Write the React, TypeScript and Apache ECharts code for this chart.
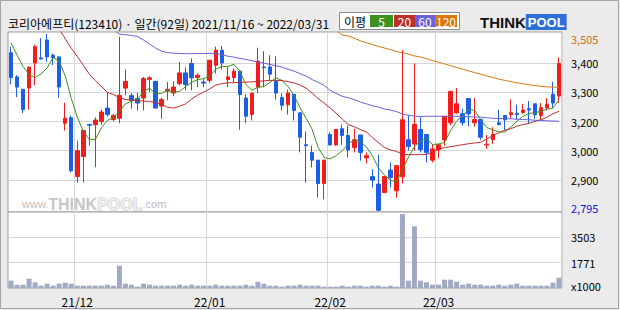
import { useEffect, useRef } from 'react';
import * as echarts from 'echarts';

const stockName = '코리아에프티';
const stockCode = '123410';

const dates = [
  '2021/11/16','2021/11/17','2021/11/18','2021/11/19','2021/11/22','2021/11/23','2021/11/24','2021/11/25','2021/11/26','2021/11/29','2021/11/30',
  '2021/12/01','2021/12/02','2021/12/03','2021/12/06','2021/12/07','2021/12/08','2021/12/09','2021/12/10','2021/12/13','2021/12/14','2021/12/15',
  '2021/12/16','2021/12/17','2021/12/20','2021/12/21','2021/12/22','2021/12/23','2021/12/24','2021/12/27','2021/12/28','2021/12/29','2021/12/30',
  '2022/01/03','2022/01/04','2022/01/05','2022/01/06','2022/01/07','2022/01/10','2022/01/11','2022/01/12','2022/01/13','2022/01/14',
  '2022/01/17','2022/01/18','2022/01/19','2022/01/20','2022/01/21','2022/01/24','2022/01/25','2022/01/26','2022/01/27','2022/01/28',
  '2022/02/03','2022/02/04','2022/02/07','2022/02/08','2022/02/09','2022/02/10','2022/02/11','2022/02/14','2022/02/15',
  '2022/02/16','2022/02/17','2022/02/18','2022/02/21','2022/02/22','2022/02/23','2022/02/24','2022/02/25','2022/02/28',
  '2022/03/02','2022/03/03','2022/03/04','2022/03/07','2022/03/08','2022/03/10','2022/03/11','2022/03/14','2022/03/15','2022/03/16',
  '2022/03/17','2022/03/18','2022/03/21','2022/03/22','2022/03/23','2022/03/24','2022/03/25','2022/03/28','2022/03/29','2022/03/30','2022/03/31',
];

const opens = [
  3430,3333,3283,3288,3389,3409,3481,3420,3413,3147,
  3169,2933,3014,3142,3141,3154,3208,3162,3167,3288,
  3258,3246,3248,3322,3315,3216,3276,3268,3306,3349,
  3387,3330,3312,3319,3380,3440,3322,3330,3356,3248,
  3182,3292,3373,3373,3315,3250,3221,3263,3189,3061,
  3030,2999,2905,3102,3060,3125,3098,3050,3100,3008,
  2933,2903,2869,2959,2876,2932,3081,3064,3122,3102,
  2999,3041,3080,3149,3189,3185,3246,3149,3162,3060,
  3081,3149,3178,3182,3187,3190,3205,3225,3178,3209,
  3263,3256,
];
const closes = [
  3330,3292,3202,3372,3454,3405,3413,3409,3292,3167,
  2956,3037,3118,3139,3160,3192,3182,3178,3259,3315,
  3239,3228,3326,3329,3208,3242,3283,3292,3349,3302,
  3329,3340,3308,3400,3440,3389,3333,3356,3262,3175,
  3268,3396,3370,3344,3268,3219,3268,3198,3091,3057,
  2999,2905,2999,3060,3122,3098,3040,3081,3030,3017,
  2919,2798,2933,2929,2977,3161,3054,3142,3041,3030,
  3044,3061,3175,3275,3225,3149,3185,3162,3091,3063,
  3102,3142,3161,3189,3182,3200,3200,3181,3209,3223,
  3228,3387,
];
const lows = [
  3303,3252,3188,3202,3299,3403,3393,3380,3250,3118,
  2950,2909,2909,3057,2970,3142,3174,3155,3147,3259,
  3205,3198,3198,3272,3205,3165,3239,3255,3299,3279,
  3279,3292,3292,3309,3346,3363,3292,3309,3121,3147,
  3158,3268,3292,3319,3242,3198,3182,3158,3030,2909,
  2970,2849,2842,3057,3057,3060,3010,3030,2997,2986,
  2889,2795,2869,2889,2849,2905,3037,3037,3030,2990,
  2990,3008,3057,3138,3185,3138,3134,3134,3080,3044,
  3064,3138,3118,3165,3161,3185,3145,3165,3161,3198,
  3209,3228,
];
const highs = [
  3454,3340,3285,3375,3461,3488,3505,3427,3416,3229,
  3178,3077,3118,3145,3171,3201,3272,3185,3494,3363,
  3268,3270,3333,3336,3315,3250,3313,3315,3393,3371,
  3407,3346,3326,3400,3454,3457,3373,3367,3356,3263,
  3268,3450,3436,3420,3416,3268,3282,3263,3189,3114,
  3057,2999,2999,3110,3122,3142,3138,3125,3100,3030,
  2963,3021,2933,2990,2977,3440,3178,3387,3171,3102,
  3064,3061,3175,3275,3288,3205,3246,3248,3162,3100,
  3131,3201,3178,3243,3221,3225,3236,3225,3228,3248,
  3313,3411,
];
// volume in thousands of shares
const volumes = [
  540,265,265,675,428,200,335,200,335,404,
  335,200,200,200,200,200,265,200,1564,335,
  265,130,335,265,200,200,200,200,265,200,
  265,200,200,200,265,200,200,200,200,265,
  200,472,335,200,200,130,200,200,265,200,
  200,200,130,130,130,200,130,200,200,130,
  200,200,130,200,130,5098,540,4256,540,428,
  265,265,608,608,472,265,335,265,265,200,
  200,265,200,265,335,200,200,200,200,200,
  404,745,
];

const N = null;
const ma5 = [
  3470,3420,3375,3342,3330,3345,3369,3411,3395,3337,
  3247,3172,3114,3083,3082,3129,3158,3170,3194,3225,
  3235,3244,3273,3287,3266,3267,3278,3271,3275,3294,
  3311,3322,3326,3336,3363,3375,3374,3384,3356,3303,
  3279,3291,3294,3311,3329,3319,3294,3259,3209,3167,
  3123,3050,3010,3004,3017,3037,3064,3080,3074,3053,
  3017,2969,2939,2919,2911,2960,3011,3053,3075,3086,
  3062,3064,3070,3117,3156,3177,3202,3199,3162,3130,
  3121,3112,3112,3131,3155,3175,3186,3190,3194,3203,
  3208,3240,
];
const ma20 = [
  N,N,N,N,N,N,N,N,3525,3486,
  3448,3415,3380,3344,3318,3295,3271,3262,3250,3242,
  3240,3238,3236,3234,3230,3222,3211,3208,3215,3225,
  3244,3260,3272,3285,3300,3306,3309,3310,3311,3312,
  3313,3315,3317,3319,3319,3318,3314,3309,3300,3288,
  3268,3246,3228,3208,3187,3164,3142,3133,3122,3112,
  3090,3070,3050,3040,3034,3023,3021,3021,3021,3022,
  3030,3042,3050,3053,3057,3061,3065,3068,3071,3083,
  3097,3109,3119,3125,3135,3142,3146,3155,3161,3171,
  3185,3195,
];
const ma60 = [
  N,N,N,N,N,N,N,N,N,N,
  N,N,N,N,N,N,N,3525,3504,3502,
  3499,3495,3481,3465,3449,3436,3430,3428,3427,3426,
  3426,3427,3427,3427,3427,3422,3416,3412,3407,3403,
  3398,3392,3388,3383,3378,3372,3364,3356,3346,3336,
  3322,3311,3299,3279,3267,3255,3249,3242,3232,3225,
  3217,3212,3204,3200,3194,3184,3179,3176,3174,3175,
  3175,3175,3175,3175,3175,3174,3173,3172,3171,3169,
  3167,3166,3165,3165,3163,3162,3161,3159,3158,3157,
  3156,3155,
];
const ma120 = [
  N,N,N,N,N,N,N,N,N,N,
  N,N,N,N,N,N,N,N,N,N,
  N,N,N,N,N,N,N,N,N,N,
  N,N,N,N,N,N,N,N,N,N,
  N,N,N,N,N,N,N,N,N,N,
  N,N,N,N,3520,3501,3497,3488,3478,3470,
  3463,3455,3449,3442,3435,3430,3424,3417,3413,3406,
  3398,3392,3385,3378,3371,3364,3357,3350,3344,3337,
  3331,3324,3319,3314,3309,3305,3301,3298,3295,3293,
  3292,3291,
];

const maPeriods = ['5', '20', '60', '120'];

// price-axis grid lines and their (rounded) labels as printed on the chart
const priceGridValues = [3388, 3271, 3154, 3037, 2920];
const priceGridLabels = ['3,400', '3,300', '3,200', '3,000', '2,900'];
const PRICE_AXIS_MIN = 2791;
const PRICE_AXIS_MAX = 3513;

const volumeGridValues = [1771, 3503];
const VOLUME_AXIS_MIN = 39;
const VOLUME_AXIS_MAX = 5235;
const volumeUnitLabel = 'x1000';

const FONT = '"Noto Sans CJK KR", "Noto Sans", sans-serif';
const UP = '#f21c1c';
const DOWN = '#1d5fe4';
const MA_COLORS = ['#3d921f', '#bd2f2a', '#6a60db', '#db770c'];
const GRID_LINE = '#d6d6d6';
const BORDER = '#9c9c9c';

function isMonthStart(index: number) {
  return index > 0 && dates[index].slice(0, 7) !== dates[index - 1].slice(0, 7);
}

function fmt(v: number) {
  return v.toLocaleString('en-US');
}

function buildOption() {
  const priceHigh = Math.max(...highs);
  const priceLow = Math.min(...lows);
  const title = `${stockName}(${stockCode}) · 일간(${dates.length}일) ${dates[0]} ~ ${dates[dates.length - 1]}`;

  const legendBoxes: any[] = [];
  const boxX = [370, 394, 415, 435];
  const boxW = [23, 21, 20, 22];
  maPeriods.forEach((p, k) => {
    legendBoxes.push({
      type: 'rect',
      shape: { x: boxX[k], y: 15, width: boxW[k], height: 12 },
      style: { fill: MA_COLORS[k] },
      silent: true,
    });
    legendBoxes.push({
      type: 'text',
      x: boxX[k] + boxW[k] / 2,
      y: 21.5,
      style: { text: p, fill: '#fff', font: `12px ${FONT}`, align: 'center', verticalAlign: 'middle' },
      silent: true,
    });
  });

  const xAxisBase = (gridIndex: number) => ({
    type: 'category',
    gridIndex,
    data: dates,
    boundaryGap: true,
    axisLine: { show: false },
    axisTick: { show: false },
    splitLine: { show: true, interval: isMonthStart, lineStyle: { color: GRID_LINE, width: 1 } },
    axisLabel:
      gridIndex === 1
        ? {
            show: true,
            interval: isMonthStart,
            formatter: (d: string) => d.slice(2, 7),
            margin: 7,
            color: '#000',
            fontSize: 12,
            fontFamily: FONT,
          }
        : { show: false },
  });

  return {
    animation: false,
    backgroundColor: '#ebebeb',
    grid: [
      { left: 8, top: 32, width: 554, height: 180, show: true, backgroundColor: '#fff', borderColor: BORDER, borderWidth: 1 },
      { left: 8, top: 212, width: 554, height: 76, show: true, backgroundColor: '#fff', borderColor: BORDER, borderWidth: 1 },
    ],
    xAxis: [xAxisBase(0), xAxisBase(1)],
    yAxis: [
      {
        type: 'value',
        gridIndex: 0,
        position: 'right',
        min: PRICE_AXIS_MIN,
        max: PRICE_AXIS_MAX,
        axisLine: { show: false },
        axisTick: { show: false, customValues: priceGridValues },
        splitLine: { show: true, lineStyle: { color: GRID_LINE } },
        axisLabel: {
          customValues: [priceHigh, ...priceGridValues, priceLow],
          margin: 9,
          color: '#000',
          fontSize: 11,
          fontFamily: FONT,
          formatter: (v: number) => {
            if (v === priceHigh) return `{hi|${fmt(priceHigh)}}`;
            if (v === priceLow) return `{lo|${fmt(priceLow)}}`;
            const k = priceGridValues.indexOf(v);
            return k >= 0 ? priceGridLabels[k] : '';
          },
          rich: {
            hi: { color: '#d2700a', fontSize: 11, fontFamily: FONT, padding: [10, 0, 0, 0] },
            lo: { color: '#1414dc', fontSize: 11, fontFamily: FONT, padding: [0, 0, 6, 0] },
          },
        },
      },
      {
        type: 'value',
        gridIndex: 1,
        position: 'right',
        min: VOLUME_AXIS_MIN,
        max: VOLUME_AXIS_MAX,
        axisLine: { show: false },
        axisTick: { show: false, customValues: volumeGridValues },
        splitLine: { show: true, lineStyle: { color: GRID_LINE } },
        axisLabel: {
          customValues: [VOLUME_AXIS_MIN, ...volumeGridValues],
          margin: 9,
          color: '#000',
          fontSize: 11,
          fontFamily: FONT,
          formatter: (v: number) => (v === VOLUME_AXIS_MIN ? `{u|${volumeUnitLabel}}` : String(v)),
          rich: { u: { color: '#000', fontSize: 11, fontFamily: FONT, padding: [0, 0, 4, 0] } },
        },
      },
    ],
    series: [
      {
        type: 'candlestick',
        xAxisIndex: 0,
        yAxisIndex: 0,
        barWidth: 4,
        data: dates.map((_, i) => [opens[i], closes[i], lows[i], highs[i]]),
        itemStyle: { color: UP, color0: DOWN, borderColor: UP, borderColor0: DOWN, borderWidth: 1 },
      },
      ...[ma5, ma20, ma60, ma120].map((d, k) => ({
        type: 'line',
        name: 'MA' + maPeriods[k],
        xAxisIndex: 0,
        yAxisIndex: 0,
        data: d,
        symbol: 'none',
        connectNulls: false,
        clip: true,
        lineStyle: { color: MA_COLORS[k], width: 1 },
        z: 3,
      })),
      {
        type: 'bar',
        xAxisIndex: 1,
        yAxisIndex: 1,
        barWidth: 5,
        data: volumes,
        itemStyle: { color: '#a2aac3' },
      },
    ],
    graphic: [
      {
        type: 'rect',
        shape: { x: 0.5, y: 0.5, width: 618, height: 308 },
        style: { fill: 'none', stroke: '#a4a4a4', lineWidth: 1 },
        silent: true,
      },
      {
        type: 'text',
        x: 8,
        y: 23,
        style: { text: title, fill: '#000', font: `12px ${FONT}`, verticalAlign: 'middle' },
        silent: true,
      },
      {
        type: 'rect',
        shape: { x: 339.5, y: 12.5, width: 120, height: 17 },
        style: { fill: '#fff', stroke: '#8a8a8a', lineWidth: 1 },
        silent: true,
      },
      {
        type: 'text',
        x: 344,
        y: 21.5,
        style: { text: '이평', fill: '#000', font: `12px ${FONT}`, verticalAlign: 'middle' },
        silent: true,
      },
      ...legendBoxes,
      {
        type: 'text',
        x: 480,
        y: 22,
        style: {
          text: '{t|THINK}{p|POOL}',
          verticalAlign: 'middle',
          rich: {
            t: { fill: '#111', fontSize: 15, fontWeight: 'bold', fontFamily: '"Liberation Sans", Arial, sans-serif' },
            p: {
              fill: '#fff',
              backgroundColor: '#2d6ed9',
              fontSize: 13,
              fontWeight: 'bold',
              fontFamily: '"Liberation Sans", Arial, sans-serif',
              padding: [2, 2, 1, 2],
            },
          },
        },
        silent: true,
      },
      {
        type: 'text',
        x: 22,
        y: 204,
        z: 1,
        style: {
          text: '{w|www.}{t|THINK}{p|POOL}{w|.com}',
          verticalAlign: 'middle',
          rich: {
            w: { fill: '#bdbdbd', fontSize: 11, fontFamily: '"Liberation Sans", Arial, sans-serif' },
            t: { fill: '#c6c6c6', fontSize: 16, fontWeight: 'bold', fontFamily: '"Liberation Sans", Arial, sans-serif' },
            p: {
              fill: '#eeeeee',
              stroke: '#c6c6c6',
              lineWidth: 1,
              fontSize: 16,
              fontWeight: 'bold',
              fontFamily: '"Liberation Sans", Arial, sans-serif',
            },
          },
        },
        silent: true,
      },
    ],
  };
}

export default function App() {
  const ref = useRef<HTMLDivElement>(null);
  useEffect(() => {
    document.body.style.margin = '0';
    const chart = echarts.init(ref.current as HTMLDivElement, null, { renderer: 'svg' });
    chart.setOption(buildOption() as any);
    return () => chart.dispose();
  }, []);
  return <div ref={ref} style={{ width: 620, height: 310 }} />;
}
